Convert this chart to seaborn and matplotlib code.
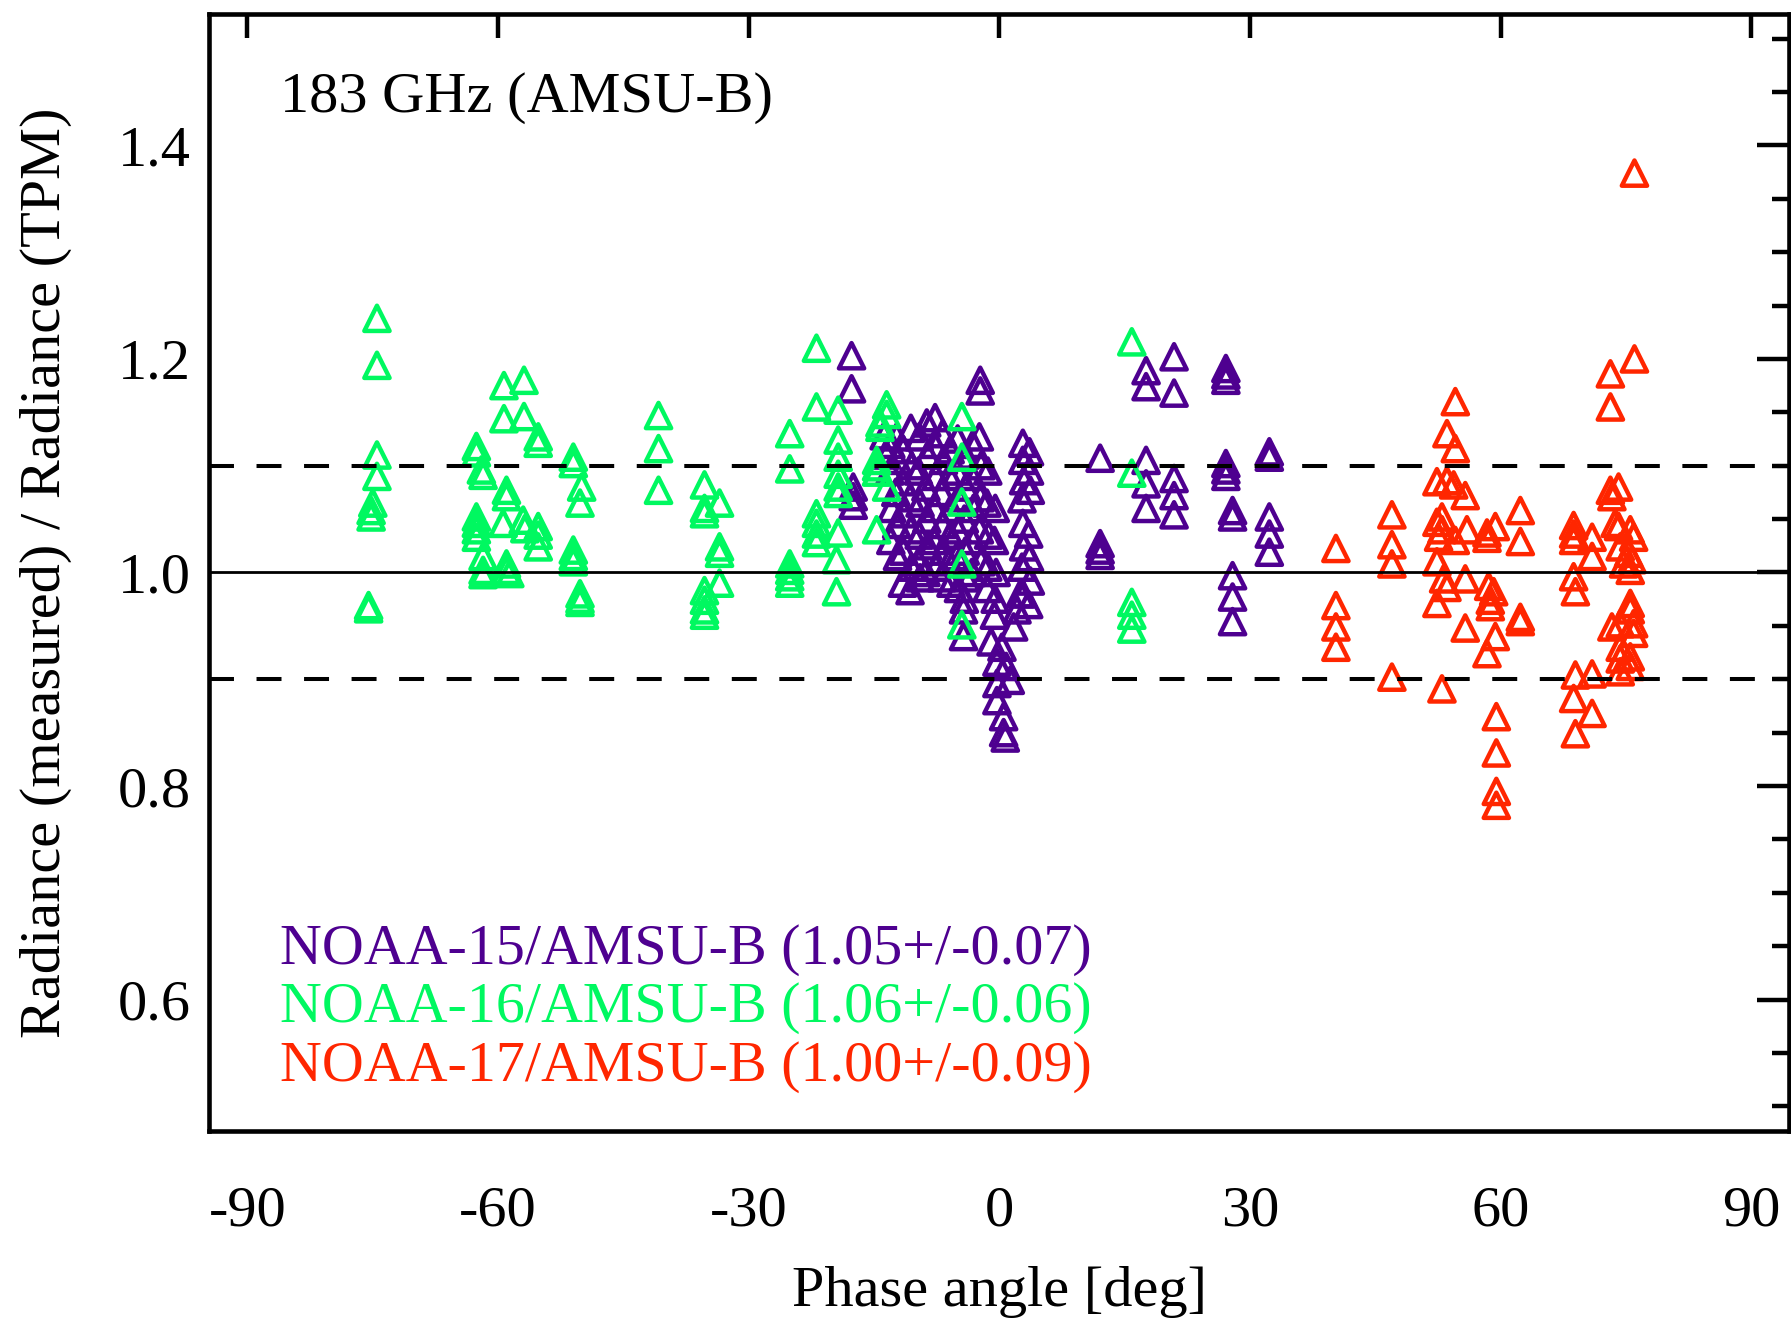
import matplotlib
matplotlib.use("Agg")
import matplotlib.pyplot as plt
import pandas as pd
import seaborn as sns

# NOAA-15 / AMSU-B : phase angle [deg] and measured/TPM radiance ratio
n15_phase = [
    -17.7, -17.7, -17.5, -17.5, -17.5,
    -13.8, -13.5,
    -13.0, -13.1, -12.9, -13.0,
    -12.3, -12.2, -12.4, -12.3, -12.2,
    -11.5, -11.6, -11.4, -11.5, -11.6,
    -10.6, -10.5, -10.7, -10.6, -10.5, -10.7,
    -9.6, -9.7, -9.5, -9.6, -9.7, -9.5,
    -8.7, -8.6, -8.8, -8.7, -8.6, -8.8,
    -7.7, -7.8, -7.6, -7.7, -7.8, -7.6,
    -6.8, -6.7, -6.9, -6.8, -6.7, -6.9,
    -5.9, -6.0, -5.8, -5.9, -6.0, -5.8,
    -5.0, -5.1, -4.9, -5.0, -5.1, -4.9,
    -4.1, -4.0, -4.2, -4.1, -4.0, -4.2,
    -4.3, -4.3,
    -3.2, -3.3, -3.1, -3.2, -3.3,
    -2.3, -2.3, -2.4, -2.2, -2.3, -2.4, -2.2,
    -1.4, -1.5, -1.3, -1.4, -1.5,
    -0.5, -0.6, -0.4, -0.5, -0.6,
    -1.0, -0.3, -0.3, -0.3, 0.3, 0.5, 0.5, 0.7, 0.8, 1.3, 1.7, 2.1, 2.5,
    2.8, 2.8, 2.9, 2.7, 2.8, 2.9, 2.7, 2.8,
    3.6, 3.6, 3.7, 3.5, 3.6, 3.7, 3.5,
    12.05, 12.05, 12.05, 12.05,
    17.55, 17.55, 17.55, 17.55, 17.55,
    20.9, 20.9, 20.9, 20.9, 20.9,
    27.1, 27.1, 27.1, 27.1, 27.1, 27.1,
    27.9, 27.9, 27.9, 27.9, 27.9,
    32.3, 32.3, 32.3, 32.3, 32.3,
]
n15_ratio = [
    1.203, 1.172, 1.080, 1.071, 1.063,
    1.128, 1.110,
    1.120, 1.095, 1.060, 1.030,
    1.127, 1.105, 1.075, 1.045, 1.015,
    1.115, 1.085, 1.055, 1.020, 0.990,
    1.135, 1.100, 1.070, 1.040, 1.005, 0.983,
    1.127, 1.095, 1.065, 1.035, 1.010, 0.995,
    1.140, 1.110, 1.080, 1.050, 1.025, 1.000,
    1.145, 1.120, 1.090, 1.060, 1.030, 1.005,
    1.130, 1.105, 1.075, 1.045, 1.020, 0.995,
    1.115, 1.090, 1.060, 1.035, 1.010, 0.990,
    1.125, 1.095, 1.070, 1.040, 1.015, 0.985,
    1.110, 1.080, 1.050, 1.020, 0.995, 0.975,
    0.965, 0.940,
    1.120, 1.090, 1.060, 1.030, 1.000,
    1.180, 1.170, 1.127, 1.100, 1.070, 1.040, 1.010,
    1.095, 1.065, 1.035, 1.005, 0.985,
    1.060, 1.030, 1.000, 0.975, 0.960,
    0.935, 0.916, 0.896, 0.880, 0.930, 0.865, 0.850, 0.845, 0.912, 0.899, 0.949, 0.965, 0.980,
    1.121, 1.105, 1.086, 1.069, 1.046, 1.024, 1.005, 0.980,
    1.113, 1.095, 1.077, 1.036, 1.014, 0.992, 0.970,
    1.107, 1.027, 1.021, 1.016,
    1.189, 1.174, 1.105, 1.083, 1.060,
    1.202, 1.168, 1.088, 1.072, 1.054,
    1.191, 1.185, 1.180, 1.102, 1.096, 1.090,
    1.058, 1.052, 0.997, 0.977, 0.954,
    1.113, 1.108, 1.052, 1.036, 1.019,
]

# NOAA-16 / AMSU-B
n16_phase = [
    -74.5, -74.5, -74.5, -74.5, -75.0, -75.2, -75.2, -75.5, -75.5,
    -59.3, -56.9, -59.3, -56.9, -55.2, -55.2, -62.6, -62.6, -62.0, -61.8,
    -59.0, -59.0, -62.6, -62.6, -62.6, -62.6, -59.4, -57.0, -56.8, -55.2,
    -55.2, -55.2, -61.8, -61.8, -61.8, -59.0, -59.0, -58.6,
    -51.0, -51.0, -50.0, -50.2, -51.0, -51.0, -51.0, -50.2, -50.2, -50.2,
    -40.8, -40.8, -40.8,
    -35.3, -35.3, -33.5, -35.3, -33.5, -33.5, -33.5, -35.3, -35.3, -35.3, -35.3,
    -25.1, -25.1, -25.1, -25.1, -25.1, -25.1,
    -21.9, -21.9, -21.9, -21.9, -21.9, -21.9,
    -19.3, -19.3, -19.3, -19.3, -19.3, -19.3, -19.3, -19.5, -19.5,
    -13.5, -13.5, -14.3, -14.3, -14.7, -14.7, -14.7, -13.5, -14.7,
    -4.5, -4.5, -4.5, -4.5, -4.5,
    15.84, 15.84, 15.84, 15.84, 15.84,
]
n16_ratio = [
    1.238, 1.194, 1.110, 1.090, 1.065, 1.058, 1.052, 0.969, 0.966,
    1.175, 1.180, 1.144, 1.146, 1.127, 1.121, 1.118, 1.112, 1.096, 1.091,
    1.077, 1.071, 1.052, 1.046, 1.040, 1.033, 1.046, 1.049, 1.041, 1.043,
    1.035, 1.024, 1.015, 1.002, 0.998, 1.008, 1.002, 0.999,
    1.108, 1.102, 1.080, 1.065, 1.021, 1.015, 1.010, 0.980, 0.975, 0.972,
    1.147, 1.116, 1.077,
    1.082, 1.060, 1.065, 1.055, 1.024, 1.018, 0.990, 0.983, 0.974, 0.965, 0.960,
    1.130, 1.097, 1.008, 1.002, 0.996, 0.990,
    1.210, 1.155, 1.055, 1.046, 1.036, 1.028,
    1.152, 1.124, 1.108, 1.092, 1.080, 1.074, 1.037, 1.012, 0.982,
    1.157, 1.148, 1.140, 1.136, 1.105, 1.099, 1.094, 1.080, 1.040,
    1.146, 1.108, 1.066, 1.008, 0.951,
    1.216, 1.093, 0.972, 0.960, 0.947,
]

# NOAA-17 / AMSU-B
n17_phase = [
    40.27, 40.27, 40.27, 40.27,
    46.97, 46.97, 46.97, 46.97,
    54.56, 53.56, 54.56, 52.36, 53.56, 54.36, 55.75,
    52.36, 52.96, 52.96, 52.56, 54.56, 55.95, 58.35, 59.35, 58.35, 62.34, 62.34,
    52.36, 53.16, 53.56, 52.36, 55.75, 58.55, 59.15, 58.75, 58.75, 62.34, 62.34,
    55.75, 59.35, 58.35, 52.96,
    59.47, 59.47, 59.47, 59.47,
    68.72, 68.72, 68.72, 70.93, 70.93, 68.72, 68.93,
    73.12, 74.1, 73.3, 73.7, 74.1, 75.5, 75.9, 74.3, 75.3, 75.7, 75.5, 74.7,
    75.5, 75.5, 75.9, 75.9, 73.3, 74.3, 74.3, 75.5, 74.3, 74.3, 75.5,
    68.93, 70.93, 68.72, 70.93, 68.93,
    73.12, 73.12, 76.0, 76.0,
]
n17_ratio = [
    1.0225, 0.969, 0.949, 0.930,
    1.054, 1.026, 1.008, 0.902,
    1.160, 1.130, 1.116, 1.085, 1.086, 1.082, 1.072,
    1.047, 1.052, 1.040, 1.033, 1.030, 1.040, 1.037, 1.043, 1.032, 1.058, 1.029,
    1.010, 0.994, 0.986, 0.971, 0.994, 0.987, 0.982, 0.974, 0.968, 0.958, 0.954,
    0.948, 0.940, 0.924, 0.891,
    0.865, 0.831, 0.795, 0.782,
    1.044, 1.036, 1.030, 1.033, 1.015, 0.996, 0.982,
    1.077, 1.080, 1.071, 1.046, 1.043, 1.040, 1.033, 1.024, 1.018, 1.012, 1.002, 1.008,
    0.971, 0.965, 0.952, 0.943, 0.949, 0.952, 0.930, 0.921, 0.919, 0.907, 0.912,
    0.904, 0.905, 0.882, 0.868, 0.849,
    1.155, 1.186, 1.374, 1.200,
]

labels = [
    "NOAA-15/AMSU-B (1.05+/-0.07)",
    "NOAA-16/AMSU-B (1.06+/-0.06)",
    "NOAA-17/AMSU-B (1.00+/-0.09)",
]
colors = ["#4E0090", "#00F860", "#FF2600"]
x_ticks = [-90, -60, -30, 0, 30, 60, 90]
y_ticks = [0.6, 0.8, 1.0, 1.2, 1.4]
ref_lines = [0.9, 1.0, 1.1]

series = [
    pd.DataFrame({"phase": n15_phase, "ratio": n15_ratio}),
    pd.DataFrame({"phase": n16_phase, "ratio": n16_ratio}),
    pd.DataFrame({"phase": n17_phase, "ratio": n17_ratio}),
]

sns.set_theme(style="white")
plt.rcParams["font.family"] = ["Liberation Serif", "DejaVu Serif"]
plt.rcParams["axes.linewidth"] = 3.3
plt.rcParams["text.color"] = "black"
plt.rcParams["axes.labelcolor"] = "black"
plt.rcParams["xtick.color"] = "black"
plt.rcParams["ytick.color"] = "black"

fig = plt.figure(figsize=(17.91, 13.20), dpi=100)
ax = fig.add_axes([0.1167, 0.1432, 0.8822, 0.8462])

for df, col in zip(series, colors):
    sns.scatterplot(data=df, x="phase", y="ratio", ax=ax, marker="^", s=330,
                    color=col, facecolor="none", edgecolor=col,
                    linewidth=3.2, zorder=2, legend=False)

ax.axhline(ref_lines[1], color="black", lw=2.0, zorder=3)
for yv in (ref_lines[0], ref_lines[2]):
    ax.axhline(yv, color="black", lw=2.9, dashes=(6.2, 5.6), zorder=3)

ax.set_xlim(-94.6, 94.5)
ax.set_ylim(0.477, 1.523)
ax.set_xticks(x_ticks)
ax.set_xticklabels([str(t) for t in x_ticks])
ax.set_yticks(y_ticks)
ax.set_yticklabels([f"{t:.1f}" for t in y_ticks])
ax.set_yticks([v / 100 for v in range(50, 155, 5)], minor=True)

ax.tick_params(axis="both", which="both", direction="in", top=True, right=True,
               width=3.2, labelsize=42, colors="black")
ax.tick_params(axis="x", which="major", length=17, pad=39)
ax.tick_params(axis="y", which="major", length=23, pad=13)
ax.tick_params(axis="y", which="minor", length=12)
for s in ax.spines.values():
    s.set_color("black")

ax.set_xlabel("Phase angle [deg]", fontsize=42, color="black")
ax.xaxis.set_label_coords(0.5, -0.121)
ax.set_ylabel("Radiance (measured) / Radiance (TPM)", fontsize=42, color="black")
ax.yaxis.set_label_coords(-0.087, 0.5)

ax.text(0.045, 0.9245, "183 GHz (AMSU-B)", transform=ax.transAxes,
        fontsize=42, ha="left", va="center", color="black")
for lab, col, yf in zip(labels, colors, [0.162, 0.110, 0.057]):
    ax.text(0.045, yf, lab, transform=ax.transAxes, fontsize=41.8,
            ha="left", va="center", color=col)

fig.savefig("out.png", dpi=100, facecolor="white")
